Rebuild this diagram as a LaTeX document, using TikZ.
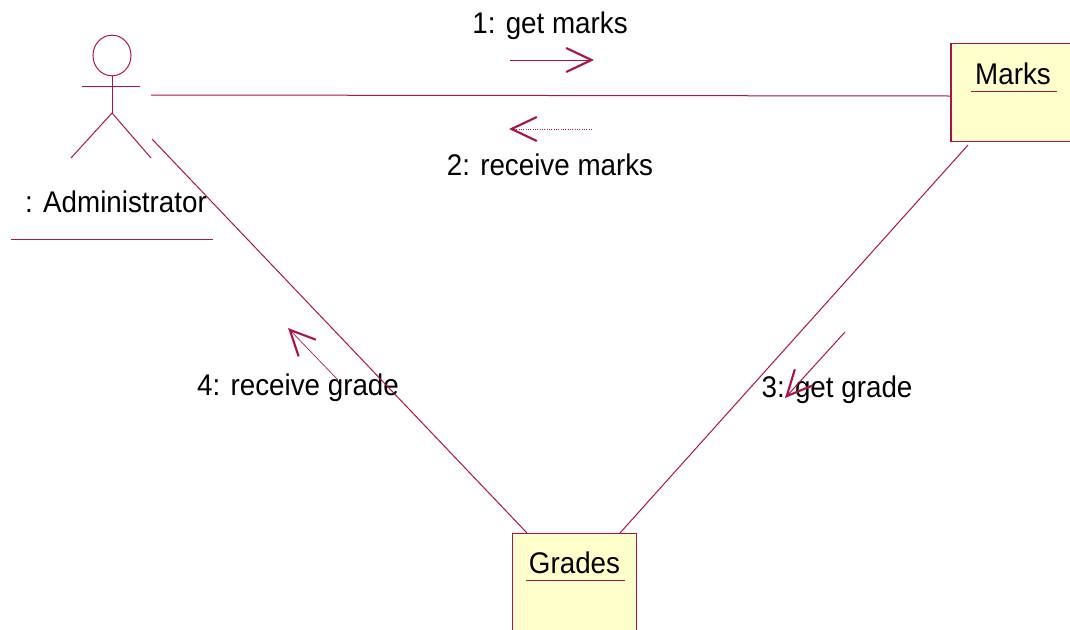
\documentclass[tikz,border=0pt]{standalone}
\usepackage{fontspec}
\setmainfont[FakeStretch=0.93]{Liberation Sans}
\usetikzlibrary{arrows.meta, shapes.geometric}
\definecolor{umlline}{RGB}{170,20,75}
\definecolor{umlfill}{RGB}{255,255,203}
\begin{document}
\begin{tikzpicture}[x=0.75pt, y=-0.75pt, node distance={15mm},
	conn/.style = {draw=umlline, line width=0.75pt},
	msg/.style = {draw=umlline, line width=0.75pt, -{Straight Barb[length=19pt, width=18pt, line width=1.6pt]}},
	obj/.style = {draw=umlline, fill=umlfill, line width=0.9pt, minimum width=93pt, minimum height=73pt, inner sep=0pt},
	txt/.style = {inner sep=0pt, font=\fontsize{22.4}{26}\selectfont}]
	\useasboundingbox (0,0) rectangle (1070,629);
	\clip (0,0) rectangle (1070,629);
	%% NODES
	% Actor
	\node[draw=umlline, line width=0.75pt, ellipse, minimum width=28.5pt, minimum height=30.5pt, inner sep=0pt] (head) at (112,55.5) {};
	\node[txt, below of = head, node distance=110pt] (admin) at (116,55.5) {: Administrator};
	\coordinate (armL) at (82,86);
	\coordinate (armR) at (140,86);
	\coordinate (hip) at (112,113);
	\coordinate (legL) at (71,158);
	\coordinate (legR) at (151,158);
	\coordinate (ulA) at (11,239);
	\coordinate (ulB) at (213,239);
	% Objects
	\node[obj] (marks) at (1013,92.5) {};
	\node[txt] (marksname) at (1013,73.5) {Marks};
	\node[obj] (grades) at (574.5,582.5) {};
	\node[txt] (gradesname) at (574.5,562.5) {Grades};
	\coordinate (ulM1) at (971,91);
	\coordinate (ulM2) at (1057,91);
	\coordinate (ulG1) at (526,580);
	\coordinate (ulG2) at (625,580);
	% Ends of the links
	\coordinate (a1) at (151,95);
	\coordinate (m1) at (951,96);
	\coordinate (a2) at (152,139);
	\coordinate (g1) at (527,533);
	\coordinate (m2) at (968,145);
	\coordinate (g2) at (620,533);
	% Message arrows
	\coordinate (s1) at (510,60);
	\coordinate (e1) at (594,60);
	\coordinate (s2) at (592,129);
	\coordinate (e2) at (509,129);
	\coordinate (s3) at (845,332);
	\coordinate (e3) at (785,398);
	\coordinate (s4) at (338,380);
	\coordinate (e4) at (288,328);
	% Message labels
	\node[txt] (l1) at (550,25.5) {1: get marks};
	\node[txt] (l2) at (550,165) {2: receive marks};
	\node[txt] (l3) at (837,390) {3: get grade};
	\node[txt] (l4) at (298,388) {4: receive grade};
	%% LINES
	% Actor
	\draw[conn] (head) -- (hip);
	\draw[conn] (armL) -- (armR);
	\draw[conn] (legL) -- (hip) -- (legR);
	\draw[conn] (ulA) -- (ulB);
	% Object names
	\draw[conn] (ulM1) -- (ulM2);
	\draw[conn] (ulG1) -- (ulG2);
	% Links
	\draw[conn] (a1) -- (m1);
	\draw[conn] (a2) -- (g1);
	\draw[conn] (m2) -- (g2);
	% Messages
	\draw[msg] (s1) -- (e1);
	\draw[msg, densely dotted, line width=0.5pt] (s2) -- (e2);
	\draw[msg] (s3) -- (e3);
	\draw[msg, line width=0.5pt] (s4) -- (e4);
\end{tikzpicture}
\end{document}
